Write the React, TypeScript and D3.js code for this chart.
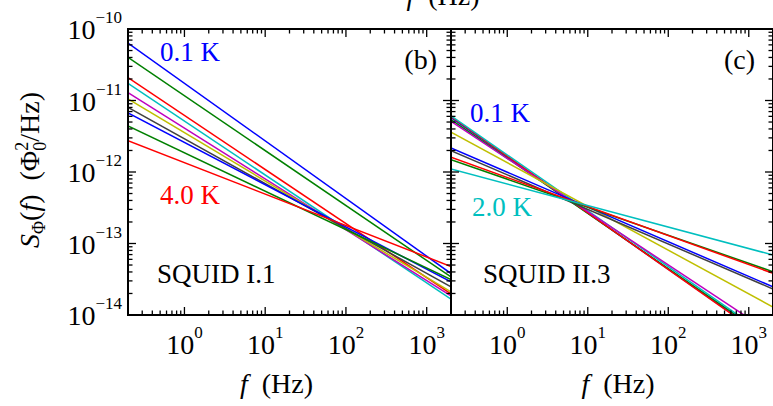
import React, { useEffect, useRef } from "react";
import * as d3 from "d3";

// frequency span of both panels (Hz) and the noise span (Phi0^2/Hz)
const freqDomain = [0.2, 2000];
const noiseDomain = [1e-14, 1e-10];

// line colours, old Matlab order b g r c m y k ...
const lineColors = ["#0000ff", "#008000", "#ff0000", "#00bfbf", "#bf00bf", "#bfbf00", "#404040", "#0000ff", "#008000", "#ff0000", "#00bfbf"];

// SQUID I.1 : S at 0.2 Hz and at 2 kHz, 0.1 K ... 4.0 K
const squidI1Low = [6.37e-11, 4.02e-11, 2.09e-11, 1.74e-11, 1.29e-11, 1.05e-11, 8.0e-12, 6.7e-12, 4.4e-12, 2.74e-12];
const squidI1High = [3.8e-14, 3.4e-14, 1.97e-14, 1.67e-14, 1.85e-14, 2.1e-14, 2.47e-14, 2.9e-14, 3.13e-14, 4.77e-14];

// SQUID II.3 : 0.1 K ... 2.0 K
const squidII3Low = [5.78e-12, 5.42e-12, 5.97e-12, 6.1e-12, 5.12e-12, 3.62e-12, 1.99e-12, 2.17e-12, 1.49e-12, 1.61e-12, 1.1e-12];
const squidII3High = [4.15e-15, 4.4e-15, 4.03e-15, 4.57e-15, 5.4e-15, 1.29e-14, 2.31e-14, 2.47e-14, 4.03e-14, 3.83e-14, 6.9e-14];

const yDecades = [-14, -13, -12, -11, -10];
const xDecades = [0, 1, 2, 3];

const FONT = "Liberation Serif, DejaVu Serif, serif";

export default function App() {
  const ref = useRef<SVGSVGElement>(null);

  useEffect(() => {
    const svg = d3.select(ref.current);
    svg.selectAll("*").remove();
    const W = 773, H = 406;
    svg.attr("width", W).attr("height", H).attr("font-family", FONT);

    const top = 29, bottom = 315;
    const y = d3.scaleLog().domain(noiseDomain).range([bottom, top]);

    const panels = [
      { x0: 128, x1: 451, low: squidI1Low, high: squidI1High, id: "b", yLabels: true },
      { x0: 451, x1: 773, low: squidII3Low, high: squidII3High, id: "c", yLabels: false },
    ];

    const line = d3.line<[number, number]>();

    panels.forEach((p) => {
      const x = d3.scaleLog().domain(freqDomain).range([p.x0, p.x1]);
      const g = svg.append("g");

      g.append("clipPath").attr("id", "clip-" + p.id)
        .append("rect").attr("x", p.x0).attr("y", top).attr("width", p.x1 - p.x0).attr("height", bottom - top);

      const lines = g.append("g").attr("clip-path", `url(#clip-${p.id})`);
      p.low.forEach((lo, i) => {
        const pts: [number, number][] = [
          [x(freqDomain[0]), y(lo)],
          [x(freqDomain[1]), y(p.high[i])],
        ];
        lines.append("path").attr("d", line(pts)).attr("fill", "none")
          .attr("stroke", lineColors[i]).attr("stroke-width", 1.5);
      });

      // ticks on all four sides, pointing inward
      const ax = g.append("g").attr("stroke", "#000").attr("stroke-width", 1.3);
      x.ticks().forEach((t) => {
        const major = Math.abs(Math.log10(t) - Math.round(Math.log10(t))) < 1e-9;
        const len = major ? 8 : 4.5;
        const xx = x(t);
        ax.append("line").attr("x1", xx).attr("x2", xx).attr("y1", bottom).attr("y2", bottom - len);
        ax.append("line").attr("x1", xx).attr("x2", xx).attr("y1", top).attr("y2", top + len);
      });
      y.ticks().forEach((t) => {
        const major = Math.abs(Math.log10(t) - Math.round(Math.log10(t))) < 1e-9;
        const len = major ? 8 : 4.5;
        const yy = y(t);
        ax.append("line").attr("x1", p.x0).attr("x2", p.x0 + len).attr("y1", yy).attr("y2", yy);
        ax.append("line").attr("x1", p.x1).attr("x2", p.x1 - len).attr("y1", yy).attr("y2", yy);
      });

      g.append("rect").attr("x", p.x0).attr("y", top).attr("width", p.x1 - p.x0).attr("height", bottom - top)
        .attr("fill", "none").attr("stroke", "#000").attr("stroke-width", 2);

      // x tick labels
      xDecades.forEach((d) => {
        const t = g.append("text").attr("x", x(Math.pow(10, d))).attr("y", 354)
          .attr("text-anchor", "middle").attr("font-size", 28).attr("font-family", FONT);
        t.append("tspan").text("10");
        t.append("tspan").attr("dy", -16).attr("font-size", 17).text(String(d));
      });

      if (p.yLabels) {
        yDecades.forEach((d) => {
          const t = g.append("text").attr("x", 122).attr("y", y(Math.pow(10, d)) + 10)
            .attr("text-anchor", "end").attr("font-size", 28).attr("font-family", FONT);
          t.append("tspan").text("10");
          t.append("tspan").attr("dy", -16).attr("font-size", 17).text("\u2212" + Math.abs(d));
        });
      }

      // x axis title
      const xt = g.append("text").attr("x", (p.x0 + p.x1) / 2 - (p.id === "b" ? 13 : -6)).attr("y", 393)
        .attr("text-anchor", "middle").attr("font-size", 28).attr("font-family", FONT);
      xt.append("tspan").attr("font-style", "italic").text("f");
      xt.append("tspan").text("\u2002(Hz)");

      g.append("text").attr("x", p.id === "b" ? 437 : 755).attr("y", 69).attr("font-family", FONT)
        .attr("text-anchor", "end").attr("font-size", 28).text(`(${p.id})`);
    });

    const notes = [
      { x: 160, y: 61, text: "0.1 K", color: "#0000ff" },
      { x: 160, y: 204, text: "4.0 K", color: "#ff0000" },
      { x: 157, y: 283, text: "SQUID I.1", color: "#000" },
      { x: 470, y: 122, text: "0.1 K", color: "#0000ff" },
      { x: 472, y: 216, text: "2.0 K", color: "#00bfbf" },
      { x: 483, y: 283, text: "SQUID II.3", color: "#000" },
    ];
    notes.forEach((n) => {
      svg.append("text").attr("x", n.x).attr("y", n.y).attr("font-size", 27).attr("font-family", FONT)
        .attr("fill", n.color).text(n.text);
    });

    // y axis title
    const yt = svg.append("text").attr("transform", "translate(39,170) rotate(-90)")
      .attr("text-anchor", "middle").attr("font-size", 28).attr("font-family", FONT);
    yt.append("tspan").attr("font-style", "italic").text("S");
    yt.append("tspan").attr("font-size", 18).attr("dy", 6).text("\u03A6");
    yt.append("tspan").attr("dy", -6).text("(");
    yt.append("tspan").attr("font-style", "italic").text("f");
    yt.append("tspan").text(")\u2002(\u03A6");
    yt.append("tspan").attr("font-size", 18).attr("dy", 7).text("0");
    yt.append("tspan").attr("font-size", 18).attr("dx", -9).attr("dy", -18).text("2");
    yt.append("tspan").attr("dy", 11).text("/Hz)");

    // bottom of the title of the panel above, cut by the frame
    const cut = svg.append("text").attr("x", 443).attr("y", 5).attr("font-family", FONT)
      .attr("text-anchor", "middle").attr("font-size", 28);
    cut.append("tspan").attr("font-style", "italic").text("f");
    cut.append("tspan").text("\u2002(Hz)");
  }, []);

  return (
    <div style={{ position: "absolute", left: 0, top: 0 }}>
      <svg ref={ref} style={{ display: "block" }} />
    </div>
  );
}
